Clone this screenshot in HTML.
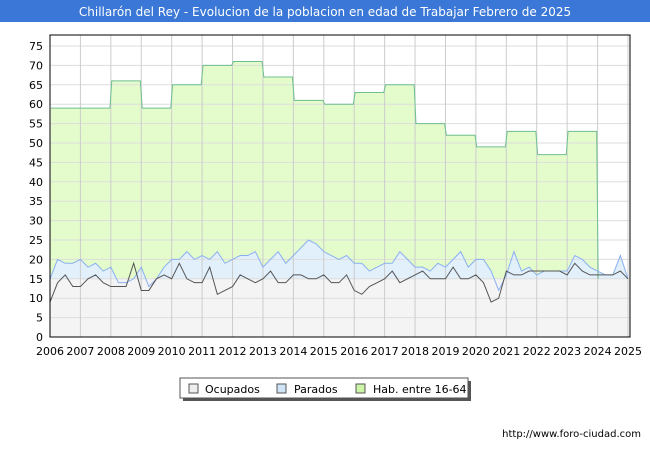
<!DOCTYPE html>
<html><head><meta charset="utf-8"><style>
body{margin:0;width:650px;height:450px;background:#fff;font-family:"Liberation Sans","DejaVu Sans",sans-serif;overflow:hidden}
</style></head><body>
<svg width="650" height="450" xmlns="http://www.w3.org/2000/svg">
<rect x="0" y="0" width="650" height="22" fill="#3a77d6"/>
<text x="325" y="16" fill="#fff" font-size="12" text-anchor="middle" font-family="DejaVu Sans,sans-serif">Chillarón del Rey - Evolucion de la poblacion en edad de Trabajar Febrero de 2025</text>
<g id="plot"></g>
<g>
<rect x="183" y="381" width="288" height="20" fill="#555"/>
<rect x="180" y="378" width="288" height="20" fill="#fff" stroke="#555"/>
<rect x="189" y="384" width="9" height="9" fill="#eee" stroke="#555"/>
<text x="205" y="393" font-size="11" font-family="DejaVu Sans,sans-serif">Ocupados</text>
<rect x="277" y="384" width="9" height="9" fill="#cfe4f7" stroke="#555"/>
<text x="294" y="393" font-size="11" font-family="DejaVu Sans,sans-serif">Parados</text>
<rect x="356" y="384" width="9" height="9" fill="#ccf5a8" stroke="#555"/>
<text x="373" y="393" font-size="11" font-family="DejaVu Sans,sans-serif">Hab. entre 16-64</text>
</g>
<text x="641" y="437" font-size="10" text-anchor="end" font-family="DejaVu Sans,sans-serif">http://www.foro-ciudad.com</text>
</svg>
<script>
const years=[2006,2007,2008,2009,2010,2011,2012,2013,2014,2015,2016,2017,2018,2019,2020,2021,2022,2023];
const habValues=[59,59,66,59,65,70,71,67,61,60,63,65,55,52,49,53,47,53];
const paradosValues=[15,20,19,19,20,18,19,17,18,14,14,15,18,13,15,18,20,20,22,20,21,20,22,19,20,21,21,22,18,20,22,19,21,23,25,24,22,21,20,21,19,19,17,18,19,19,22,20,18,18,17,19,18,20,22,18,20,20,17,12,16,22,17,18,16,17,17,17,17,21,20,18,17,16,16,21,15];
const ocupadosValues=[9,14,16,13,13,15,16,14,13,13,13,19,12,12,15,16,15,19,15,14,14,18,11,12,13,16,15,14,15,17,14,14,16,16,15,15,16,14,14,16,12,11,13,14,15,17,14,15,16,17,15,15,15,18,15,15,16,14,9,10,17,16,16,17,17,17,17,17,16,19,17,16,16,16,16,17,15];
const yTicks=[0,5,10,15,20,25,30,35,40,45,50,55,60,65,70,75];
const xTicks=[2006,2007,2008,2009,2010,2011,2012,2013,2014,2015,2016,2017,2018,2019,2020,2021,2022,2023,2024,2025];
const X0=50,X1=630,Y0=337,YT=35;
const xs=t=>X0+(t-2006)*(578/19);
const ys=v=>Y0-v*3.88;
const NS="http://www.w3.org/2000/svg";
const g=document.getElementById('plot');
function mk(tag,at){const e=document.createElementNS(NS,tag);for(const k in at)e.setAttribute(k,at[k]);g.appendChild(e);return e;}
const bg=mk('rect',{x:X0,y:YT,width:X1-X0,height:Y0-YT,fill:'#fff'});


let hp=[];
years.forEach((y,i)=>{hp.push([xs(y+0.03),ys(habValues[i])]);hp.push([xs(y+0.97),ys(habValues[i])]);});
hp.push([xs(2024.02),ys(15)]);
const habPts=hp.map(p=>p.join(',')).join(' ');
const hf=mk('polygon',{points:`${xs(2006)},${Y0} ${habPts} ${xs(2024.02)},${Y0}`,fill:'#e4fccc'});


const pt=i=>2006+i/4;
const parPts=paradosValues.map((v,i)=>`${xs(pt(i))},${ys(v)}`).join(' ');
const pf=mk('polygon',{points:`${xs(2006)},${Y0} ${parPts} ${xs(pt(paradosValues.length-1))},${Y0}`,fill:'#e2f0fc'});


const gf=mk('rect',{x:X0,y:ys(15),width:X1-X0,height:Y0-ys(15),fill:'#f4f4f4'});


yTicks.forEach(v=>{
 if(v>0){const l=mk('line',{x1:X0,x2:X1,y1:ys(v),y2:ys(v),stroke:'#ddd','stroke-width':1});
 
 }
 const t=mk('text',{x:X0-7,y:ys(v)+4,'font-size':11,'text-anchor':'end','font-family':'DejaVu Sans,sans-serif'});t.textContent=v;
 
 
});
xTicks.forEach(v=>{
 if(v>2006){const l=mk('line',{x1:xs(v),x2:xs(v),y1:YT,y2:Y0,stroke:'#ccc','stroke-width':1});
 
 }
 const t=mk('text',{x:xs(v),y:355,'font-size':11,'text-anchor':'middle','font-family':'DejaVu Sans,sans-serif'});t.textContent=v;
 
 
});
const hl=mk('polyline',{points:habPts,fill:'none',stroke:'#6fbf8f','stroke-width':1});


const pl=mk('polyline',{points:parPts,fill:'none',stroke:'#8ab0ee','stroke-width':1});


const ol=mk('polyline',{points:ocupadosValues.map((v,i)=>`${xs(pt(i))},${ys(v)}`).join(' '),fill:'none',stroke:'#555','stroke-width':1});


const fr=mk('rect',{x:X0,y:YT,width:X1-X0,height:Y0-YT,fill:'none',stroke:'#000','stroke-width':1});


</script>
</body></html>
